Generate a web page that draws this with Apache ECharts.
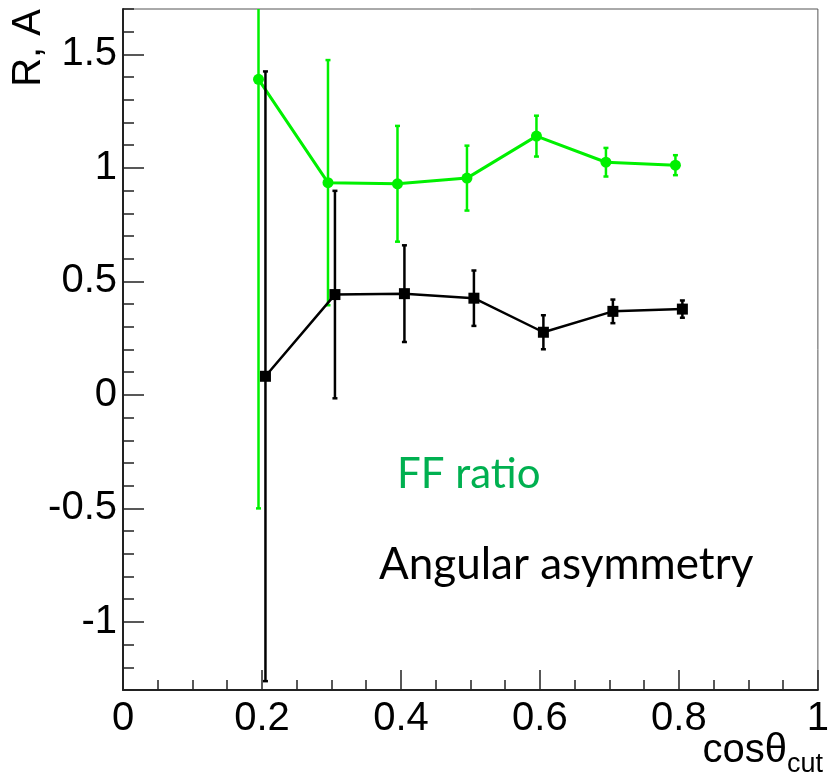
<!DOCTYPE html>
<html>
<head>
<meta charset="utf-8">
<script src="https://cdn.jsdelivr.net/npm/echarts@6/dist/echarts.min.js"></script>
<style>html,body{margin:0;padding:0;background:#fff}#c{width:832px;height:777px}</style>
</head>
<body>
<div id="c"></div>
<script>
// FF ratio (green) points
const greenX = [0.195, 0.295, 0.395, 0.495, 0.595, 0.695, 0.795];
const greenY = [1.39, 0.935, 0.93, 0.955, 1.14, 1.025, 1.012];
const greenErr = [1.89, 0.54, 0.255, 0.143, 0.09, 0.063, 0.044];
// Angular asymmetry (black) points
const blackX = [0.205, 0.305, 0.405, 0.505, 0.605, 0.705, 0.805];
const blackY = [0.082, 0.442, 0.446, 0.426, 0.276, 0.368, 0.378];
const blackErr = [1.343, 0.457, 0.213, 0.122, 0.075, 0.052, 0.038];
// axis ticks
const yMajorTicks = [-1, -0.5, 0, 0.5, 1, 1.5];
const xMajorTicks = [0, 0.2, 0.4, 0.6, 0.8, 1];
const yTitle = 'R, A';
const xTitleMain = 'cosθ';
const xTitleSub = 'cut';
const label1 = 'FF ratio';
const label2 = 'Angular asymmetry';

const GREEN = '#00f000';
const BLACK = '#000000';

function pts(xs, ys) { return xs.map((x, i) => [x, ys[i]]); }
function errs(xs, ys, es) { return xs.map((x, i) => [x, ys[i] - es[i], ys[i] + es[i]]); }

function errRenderer(color, lw) {
  return function (params, api) {
    const x = api.value(0), lo = api.value(1), hi = api.value(2);
    const p1 = api.coord([x, lo]), p2 = api.coord([x, hi]);
    const cap = 2.5;
    const st = { stroke: color, lineWidth: lw };
    return {
      type: 'group',
      children: [
        { type: 'line', shape: { x1: p1[0], y1: p1[1], x2: p2[0], y2: p2[1] }, style: st },
        { type: 'line', shape: { x1: p1[0] - cap, y1: p1[1], x2: p1[0] + cap, y2: p1[1] }, style: st },
        { type: 'line', shape: { x1: p2[0] - cap, y1: p2[1], x2: p2[0] + cap, y2: p2[1] }, style: st }
      ]
    };
  };
}

const chart = echarts.init(document.getElementById('c'), null, { renderer: 'canvas' });
const axisFont = 'Liberation Sans, Arial, sans-serif';
chart.setOption({
  animation: false,
  backgroundColor: '#fff',
  grid: { left: 123, top: 9, right: 7, bottom: 87, show: true, borderColor: '#555', borderWidth: 1, containLabel: false },
  xAxis: [{
    type: 'value', min: 0, max: 1, interval: 0.2, position: 'bottom',
    axisLine: { show: true, onZero: false, lineStyle: { color: '#222', width: 2 } },
    axisTick: { show: true, inside: true, length: 20, lineStyle: { color: '#222', width: 1.5 } },
    minorTick: { show: true, splitNumber: 4, length: 10, lineStyle: { color: '#222', width: 1.5 } },
    splitLine: { show: false },
    axisLabel: {
      show: true, margin: 9, color: '#000', fontSize: 40, fontFamily: axisFont,
      customValues: xMajorTicks,
      formatter: v => String(Math.round(v * 10) / 10)
    }
  }],
  yAxis: [{
    type: 'value', min: -1.3, max: 1.7, interval: 0.1, position: 'left',
    axisLine: { show: true, onZero: false, lineStyle: { color: '#222', width: 2 } },
    axisTick: { show: true, inside: true, length: 11, lineStyle: { color: '#222', width: 1.5 } },
    splitLine: { show: false },
    axisLabel: { show: false }
  }, {
    type: 'value', min: -1.3, max: 1.7, interval: 0.1, position: 'left',
    axisLine: { show: false, onZero: false },
    axisTick: { show: true, inside: true, length: 21, customValues: yMajorTicks, lineStyle: { color: '#222', width: 1.5 } },
    splitLine: { show: false },
    axisLabel: {
      show: true, margin: 6, color: '#000', fontSize: 40, fontFamily: axisFont,
      customValues: yMajorTicks,
      formatter: v => String(Math.round(v * 10) / 10)
    }
  }],
  series: [
    {
      type: 'custom', xAxisIndex: 0, yAxisIndex: 0, clip: true, z: 2,
      renderItem: errRenderer(GREEN, 2.5),
      data: errs(greenX, greenY, greenErr)
    },
    {
      type: 'line', xAxisIndex: 0, yAxisIndex: 0, clip: true, z: 3,
      data: pts(greenX, greenY),
      symbol: 'circle', symbolSize: 11,
      lineStyle: { color: GREEN, width: 3 },
      itemStyle: { color: GREEN }
    },
    {
      type: 'custom', xAxisIndex: 0, yAxisIndex: 0, clip: true, z: 4,
      renderItem: errRenderer(BLACK, 2.5),
      data: errs(blackX, blackY, blackErr)
    },
    {
      type: 'line', xAxisIndex: 0, yAxisIndex: 0, clip: true, z: 5,
      data: pts(blackX, blackY),
      symbol: 'rect', symbolSize: 11,
      lineStyle: { color: BLACK, width: 2.5 },
      itemStyle: { color: BLACK }
    }
  ],
  graphic: [
    { type: 'text', x: 29, y: 9, rotation: Math.PI / 2,
      style: { text: yTitle, font: '40px ' + axisFont, fill: '#000', align: 'right', verticalAlign: 'middle' } },
    { type: 'text', x: 787, y: 751,
      style: { text: xTitleMain, font: '40px ' + axisFont, fill: '#000', align: 'right', verticalAlign: 'middle' } },
    { type: 'text', x: 823, y: 765,
      style: { text: xTitleSub, font: '27px ' + axisFont, fill: '#000', align: 'right', verticalAlign: 'middle' } },
    { type: 'text', x: 397, y: 474,
      style: { text: label1, font: '42px Lato, "Open Sans", sans-serif', fill: '#00b050', align: 'left', verticalAlign: 'middle' } },
    { type: 'text', x: 379, y: 565,
      style: { text: label2, font: '44px Lato, "Open Sans", sans-serif', fill: '#000', align: 'left', verticalAlign: 'middle' } }
  ]
});
</script>
</body>
</html>
